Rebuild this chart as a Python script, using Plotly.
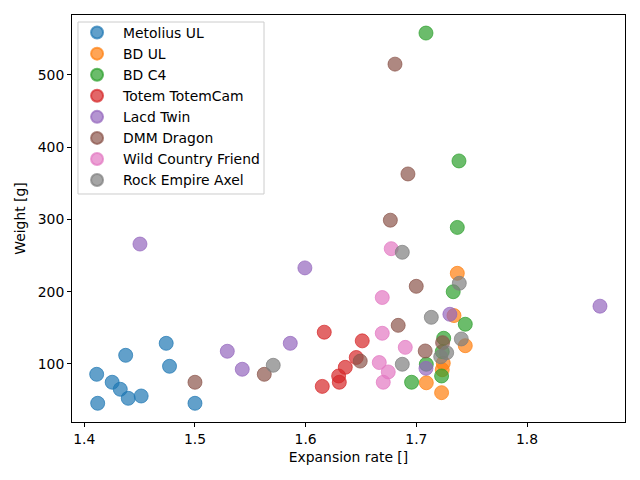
import plotly.graph_objects as go

names = ["Metolius UL","BD UL","BD C4","Totem TotemCam","Lacd Twin","DMM Dragon","Wild Country Friend","Rock Empire Axel"]
colors = ["31,119,180","255,127,14","44,160,44","214,39,40","148,103,189","140,86,75","227,119,194","127,127,127"]

xs = [
 [1.4112,1.4121,1.4252,1.4325,1.4374,1.4397,1.4514,1.474,1.477,1.500],
 [1.709,1.7228,1.7234,1.7243,1.7442,1.734,1.737],
 [1.6957,1.709,1.7228,1.7234,1.7247,1.7442,1.7333,1.737,1.7385,1.7087],
 [1.615,1.6298,1.6304,1.6358,1.6168,1.6511,1.6457],
 [1.4503,1.5292,1.5427,1.5861,1.5993,1.7087,1.7303,1.8659],
 [1.500,1.5626,1.6493,1.6765,1.6807,1.6924,1.6836,1.6999,1.708,1.7237],
 [1.6701,1.6665,1.6746,1.6692,1.6692,1.69,1.6773],
 [1.5707,1.6873,1.722,1.7274,1.7406,1.7135,1.7388,1.6873],
]
ys = [
 [85.7,45.6,74.7,65,112,52.5,55.7,128.6,96.8,45.6],
 [74,60.3,92,101,125.3,167,225.5],
 [74.7,99.6,83.4,117,135.6,155,200,289,381,558],
 [69,83.4,74.7,95.4,144,132,109],
 [266,117.6,92.7,128.6,233,94,168.8,180],
 [74.7,85.7,104,299,515,363,153.5,207.5,118,129.5],
 [74.7,102,89,142.5,192,123,259.6],
 [98.2,99.6,110,115.6,134.6,164.6,211.7,254.6],
]

fig = go.Figure()
for n,c,x,y in zip(names,colors,xs,ys):
    fig.add_trace(go.Scatter(x=x,y=y,mode="markers",name=n,
        marker=dict(size=14,color=f"rgba({c},0.7)",line=dict(width=1,color=f"rgba({c},0.7)"))))

ax = dict(showgrid=False,zeroline=False,showline=True,mirror=True,linecolor="black",linewidth=1,
          ticks="outside",ticklen=4,tickcolor="black")
fig.update_layout(
    width=632,height=472,margin=dict(l=64,r=15,t=7,b=58),
    paper_bgcolor="white",plot_bgcolor="white",
    font=dict(family="DejaVu Sans",size=13.9,color="black"),
    xaxis=dict(ax,title=dict(text="Expansion rate []",font=dict(size=13.9),standoff=6),range=[1.3889,1.8885],
               tickvals=[1.4,1.5,1.6,1.7,1.8],ticktext=["1.4","1.5","1.6","1.7","1.8"]),
    yaxis=dict(ax,title=dict(text="Weight [g]",font=dict(size=13.9),standoff=8),range=[19.7,583],tickvals=[100,200,300,400,500]),
    legend=dict(x=-0.0017,y=0.995,xanchor="left",yanchor="top",bgcolor="rgba(0,0,0,0)",
                borderwidth=0,font=dict(size=13.9),itemsizing="constant",itemwidth=42),
    shapes=[dict(type="rect",xref="paper",yref="paper",x0=0.0108,x1=0.3472,y0=0.5602,y1=0.9828,
                 line=dict(color="#cccccc",width=1),fillcolor="rgba(255,255,255,0.8)",layer="above")],
)
fig.write_html("out.html")
